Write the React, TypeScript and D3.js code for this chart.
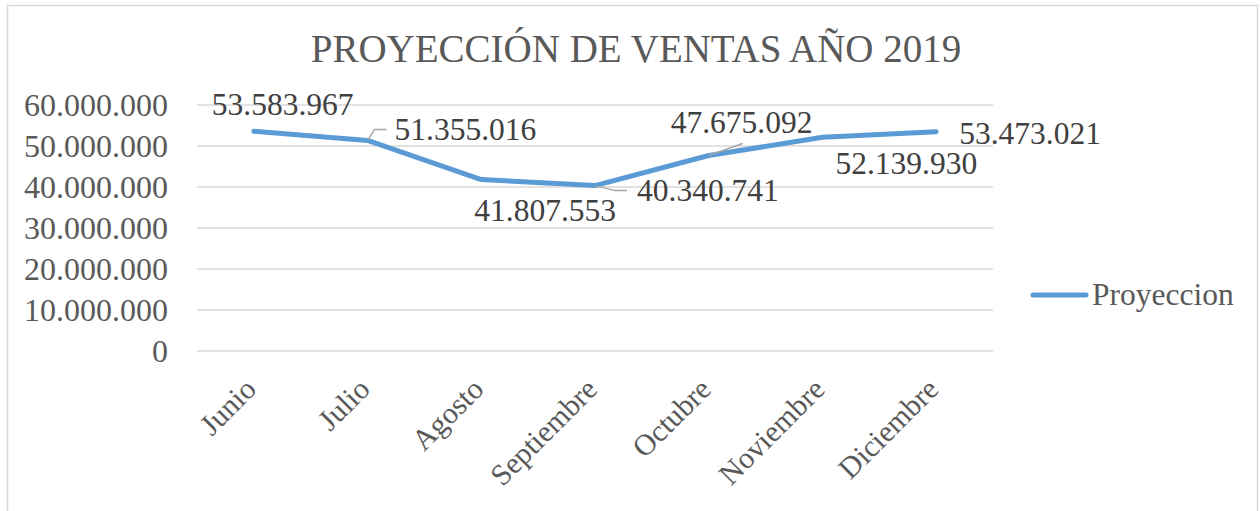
import { useEffect, useRef } from 'react';
import * as d3 from 'd3';

const months = ['Junio', 'Julio', 'Agosto', 'Septiembre', 'Octubre', 'Noviembre', 'Diciembre'];
const ventas = [53583967, 51355016, 41807553, 40340741, 47675092, 52139930, 53473021];
const yTicks = [0, 10000000, 20000000, 30000000, 40000000, 50000000, 60000000];

// posición de etiquetas de datos respecto al punto (inicio del texto, línea base)
const labelOffsets = [
  { dx: -42, dy: -16 },
  { dx: 27, dy: 0 },
  { dx: -7, dy: 41 },
  { dx: 42, dy: 15 },
  { dx: -38, dy: -23 },
  { dx: 13, dy: 37 },
  { dx: 23, dy: 12 },
];

// líneas guía (relativas al punto)
const leaders: ([number, number][] | null)[] = [
  null,
  [[0, 0], [7, -11], [19, -11]],
  null,
  [[0, 0], [20, 5], [32, 5]],
  [[0, 0], [34, -12]],
  null,
  null,
];

const fmt = (v: number) => d3.format(',')(v).replace(/,/g, '.');

const App = () => {
  const svgRef = useRef<SVGSVGElement>(null);

  useEffect(() => {
    if (!svgRef.current) return;
    const svg = d3.select(svgRef.current);
    svg.selectAll('*').remove();

    const font = '"Liberation Serif", "Times New Roman", serif';
    const left = 197;
    const right = 993;
    const top = 105;
    const bottom = 351;

    // borde del gráfico
    svg.append('rect')
      .attr('x', 7.5).attr('y', 5.5)
      .attr('width', 1250).attr('height', 520)
      .attr('fill', 'white')
      .attr('stroke', '#d9d9d9')
      .attr('stroke-width', 1.5);

    const x = d3.scaleBand().domain(months).range([left, right]);
    const y = d3.scaleLinear().domain([0, 60000000]).range([bottom, top]);
    const cx = (m: string) => (x(m) as number) + x.bandwidth() / 2;

    // título
    svg.append('text')
      .attr('x', 636).attr('y', 62)
      .attr('text-anchor', 'middle')
      .attr('font-family', font)
      .attr('font-size', 39)
      .attr('fill', '#595959')
      .text('PROYECCIÓN DE VENTAS AÑO 2019');

    // líneas de cuadrícula
    yTicks.forEach(t => {
      svg.append('line')
        .attr('x1', left).attr('x2', right)
        .attr('y1', y(t)).attr('y2', y(t))
        .attr('stroke', '#d9d9d9')
        .attr('stroke-width', 1.5);

      svg.append('text')
        .attr('x', 168).attr('y', y(t) + 10.5)
        .attr('text-anchor', 'end')
        .attr('font-family', font)
        .attr('font-size', 32)
        .attr('fill', '#595959')
        .text(fmt(t));
    });

    // etiquetas del eje x
    months.forEach(m => {
      const px = cx(m) + 4;
      const py = 391;
      svg.append('text')
        .attr('transform', `translate(${px},${py}) rotate(-45)`)
        .attr('text-anchor', 'end')
        .attr('font-family', font)
        .attr('font-size', 30)
        .attr('fill', '#595959')
        .text(m);
    });

    // serie
    const line = d3.line<number>()
      .x((_, i) => cx(months[i]))
      .y(d => y(d));

    svg.append('path')
      .datum(ventas)
      .attr('d', line)
      .attr('fill', 'none')
      .attr('stroke', '#5b9bd5')
      .attr('stroke-width', 5)
      .attr('stroke-linecap', 'round')
      .attr('stroke-linejoin', 'round');

    // líneas guía y etiquetas de datos
    ventas.forEach((v, i) => {
      const px = cx(months[i]);
      const py = y(v);
      const ld = leaders[i];
      if (ld) {
        svg.append('path')
          .attr('d', d3.line()(ld.map(([a, b]) => [px + a, py + b] as [number, number])))
          .attr('fill', 'none')
          .attr('stroke', '#a6a6a6')
          .attr('stroke-width', 1.5);
      }
      svg.append('text')
        .attr('x', px + labelOffsets[i].dx)
        .attr('y', py + labelOffsets[i].dy)
        .attr('font-family', font)
        .attr('font-size', 31.5)
        .attr('fill', '#404040')
        .text(fmt(v));
    });

    // leyenda
    svg.append('line')
      .attr('x1', 1033).attr('x2', 1086)
      .attr('y1', 295).attr('y2', 295)
      .attr('stroke', '#5b9bd5')
      .attr('stroke-width', 5)
      .attr('stroke-linecap', 'round');

    svg.append('text')
      .attr('x', 1092).attr('y', 305)
      .attr('font-family', font)
      .attr('font-size', 31.5)
      .attr('fill', '#595959')
      .text('Proyeccion');
  }, []);

  return (
    <svg
      ref={svgRef}
      width="1260"
      height="511"
      style={{ position: 'absolute', left: 0, top: 0, background: 'white' }}
    />
  );
};

export default App;
